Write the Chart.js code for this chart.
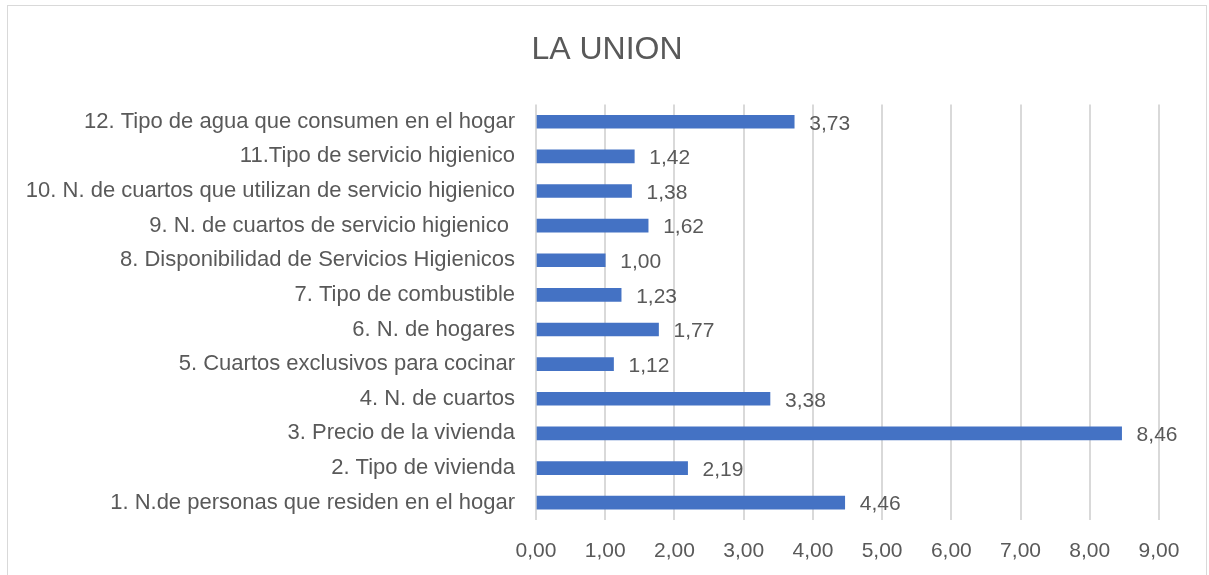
<!DOCTYPE html>
<html>
<head>
<meta charset="utf-8">
<script src="https://cdn.jsdelivr.net/npm/chart.js@4"></script>
<style>
  html, body { margin: 0; padding: 0; background: #fff; }
  #wrap { position: absolute; left: 7px; top: 5px; width: 1200px; height: 575px; border: 1px solid #d9d9d9; box-sizing: border-box; }
  canvas { position: absolute; left: 0; top: 0; }
</style>
</head>
<body>
<div id="wrap"></div>
<canvas id="chart" width="1209" height="575"></canvas>
<script>
const categories = [
    "1. N.de personas que residen en el hogar",
    "2. Tipo de vivienda",
    "3. Precio de la vivienda",
    "4. N. de cuartos",
    "5. Cuartos exclusivos para cocinar",
    "6. N. de hogares",
    "7. Tipo de combustible",
    "8. Disponibilidad de Servicios Higienicos",
    "9. N. de cuartos de servicio higienico ",
    "10. N. de cuartos que utilizan de servicio higienico",
    "11.Tipo de servicio higienico",
    "12. Tipo de agua que consumen en el hogar"
];
const values = [4.46, 2.19, 8.46, 3.38, 1.12, 1.77, 1.23, 1.00, 1.62, 1.38, 1.42, 3.73];
const tickValues = [0, 1, 2, 3, 4, 5, 6, 7, 8, 9];

const textColor = "#595959";
const fontFamily = "'Liberation Sans', Arial, sans-serif";

function fmt(v) {
    return v.toFixed(2).replace(".", ",");
}

// etiquetas de valor a la derecha de cada barra
const valueLabels = {
    id: "valueLabels",
    afterDatasetsDraw(chart) {
        const ctx = chart.ctx;
        const meta = chart.getDatasetMeta(0);
        ctx.save();
        ctx.font = "21px " + fontFamily;
        ctx.fillStyle = textColor;
        ctx.textAlign = "left";
        ctx.textBaseline = "middle";
        meta.data.forEach(function(bar, i) {
            ctx.fillText(fmt(values[i]), bar.x + 15, bar.y + 2);
        });
        ctx.restore();
    }
};

const ctx = document.getElementById("chart").getContext("2d");

const chart = new Chart(ctx, {
    type: "bar",
    data: {
        labels: categories,
        datasets: [{
            data: values,
            backgroundColor: "#4472C4",
            barThickness: 13
        }]
    },
    options: {
        indexAxis: "y",
        responsive: false,
        animation: false,
        layout: {
            padding: { left: 5, right: 0, top: 0, bottom: 10 }
        },
        scales: {
            x: {
                min: 0,
                max: 9,
                afterBuildTicks: function(scale) {
                    scale.ticks = tickValues.map(function(v) { return { value: v }; });
                },
                afterFit: function(scale) {
                    scale.height = 45;
                },
                grid: {
                    color: "#d9d9d9",
                    lineWidth: 2,
                    drawTicks: false
                },
                border: { display: false },
                ticks: {
                    color: textColor,
                    padding: 19,
                    font: { family: fontFamily, size: 21 },
                    callback: function(v) { return fmt(v); }
                }
            },
            y: {
                reverse: true,
                afterFit: function(scale) {
                    scale.width = 531;
                },
                grid: { display: false },
                border: { display: false },
                ticks: {
                    color: textColor,
                    padding: 13,
                    font: { family: fontFamily, size: 22 }
                }
            },
            // eje vacio a la derecha, solo reserva margen
            yRight: {
                type: "linear",
                axis: "y",
                position: "right",
                afterFit: function(scale) {
                    scale.width = 50;
                },
                grid: { display: false },
                border: { display: false },
                ticks: { display: false }
            }
        },
        plugins: {
            legend: { display: false },
            tooltip: { enabled: false },
            title: {
                display: true,
                text: "LA UNION",
                color: textColor,
                font: { family: fontFamily, size: 32, weight: "normal" },
                padding: { top: 31, bottom: 35 }
            }
        }
    },
    plugins: [valueLabels]
});
</script>
</body>
</html>
